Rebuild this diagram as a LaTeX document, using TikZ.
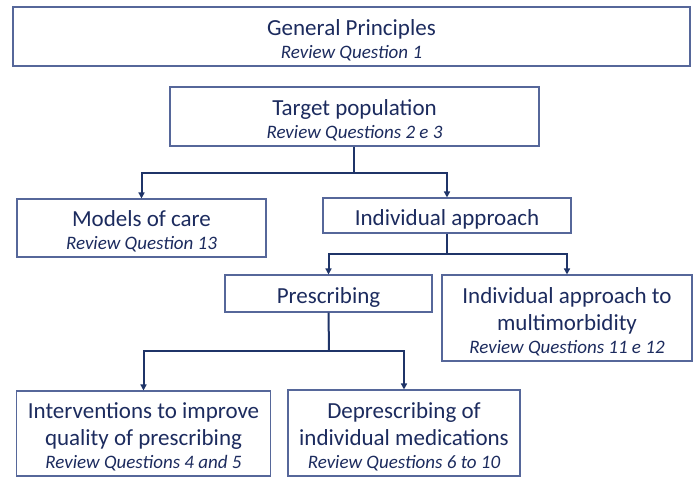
\documentclass[tikz,border=0pt]{standalone}
\usepackage{fontspec}
\setmainfont{Carlito}
\usetikzlibrary{arrows.meta}
\definecolor{txtc}{HTML}{1C2B5E}
\definecolor{boxc}{HTML}{56679A}
\definecolor{linec}{HTML}{1F3468}
\newcommand{\revq}[1]{{\fontsize{19}{23}\selectfont\itshape #1}}
\newcommand{\tstrut}{\rule{0pt}{23pt}}
\tikzset{
  box/.style={draw=boxc, line width=1.1pt, rectangle, inner sep=0pt, align=center,
    text=txtc, font=\fontsize{23}{27}\selectfont},
  conn/.style={draw=linec, line width=2pt, -{Triangle[length=6pt,width=6pt]}},
  plain/.style={draw=linec, line width=2pt}
}
\begin{document}
\begin{tikzpicture}[x=1pt,y=-1pt]
\useasboundingbox (0,0) rectangle (693,477);
\node[box, minimum width=677pt, minimum height=59pt] (gp) at (351.5,36.5)
  {\tstrut General Principles\\[-4pt]\revq{Review Question 1}};
\node[box, minimum width=369pt, minimum height=59pt] (tp) at (354.5,116.5)
  {\tstrut Target population\\[-4pt]\revq{Review Questions 2 e 3}};
\node[box, minimum width=249pt, minimum height=58pt] (moc) at (141.5,228)
  {\tstrut Models of care\\[-4pt]\revq{Review Question 13}};
\node[box, minimum width=248pt, minimum height=35pt] (ia) at (447,215.5)
  {\tstrut Individual approach};
\node[box, minimum width=207pt, minimum height=37pt] (pr) at (328.5,293.5)
  {\tstrut Prescribing};
\node[box, minimum width=250pt, minimum height=86pt] (iam) at (567,318)
  {\tstrut Individual approach to\\multimorbidity\\[-4pt]\revq{Review Questions 11 e 12}};
\node[box, minimum width=254pt, minimum height=85pt] (int) at (143.5,433.5)
  {\tstrut Interventions to improve\\quality of prescribing\\[-4pt]\revq{Review Questions 4 and 5}};
\node[box, minimum width=232pt, minimum height=86pt] (dep) at (404,433)
  {\tstrut Deprescribing of\\individual medications\\[-4pt]\revq{Review Questions 6 to 10}};
\coordinate (j1) at (353.5,172.5);
\coordinate (j2) at (447,254);
\coordinate (j3) at (329,351);
\draw[plain] (tp.south -| j1) -- (j1);
\draw[conn] (j1) -| (moc.north);
\draw[conn] (j1) -| (ia.north);
\draw[plain] (ia.south) -- (j2);
\draw[conn] (j2) -| (pr.north);
\draw[conn] (j2) -| (iam.north);
\draw[plain] (pr.south) -- (j3);
\draw[conn] (j3) -| (int.north);
\draw[conn] (j3) -| (dep.north);
\end{tikzpicture}
\end{document}
